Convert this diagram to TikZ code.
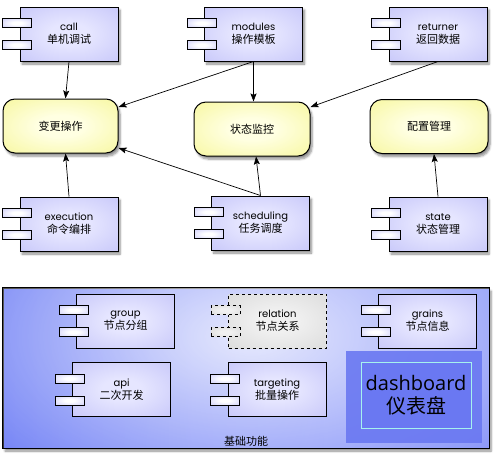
\documentclass[tikz,border=0pt]{standalone}
\usepackage{fontspec}
\setmainfont{Poppins}
\newfontfamily\cjk{Noto Sans CJK SC}
\newfontfamily\dashfont{Open Sans}
\usetikzlibrary{arrows.meta,shadows.blur,fadings}
\definecolor{compin}{HTML}{E6E6FF}
\definecolor{compout}{HTML}{B9B9F7}
\definecolor{notein}{HTML}{FFFFE2}
\definecolor{noteout}{HTML}{F3F37E}
\definecolor{relin}{HTML}{F0F0F0}
\definecolor{relout}{HTML}{D2D2D2}
\definecolor{baseleft}{HTML}{5568F4}
\definecolor{baseright}{HTML}{6E7EF8}
\definecolor{dashfill}{HTML}{6A78F2}
\definecolor{dashline}{HTML}{A6F2EE}
\pgfdeclareradialshading{compshade}{\pgfpoint{0bp}{0bp}}{color(0bp)=(compin); color(10bp)=(compin); color(50bp)=(compout); color(75bp)=(compout)}
\pgfdeclareradialshading{tabshade}{\pgfpoint{0bp}{0bp}}{color(0bp)=(white); color(8bp)=(white); color(50bp)=(compout); color(75bp)=(compout)}
\pgfdeclareradialshading{noteshade}{\pgfpoint{0bp}{0bp}}{color(0bp)=(notein); color(10bp)=(notein); color(50bp)=(noteout); color(75bp)=(noteout)}
\pgfdeclareradialshading{relshade}{\pgfpoint{0bp}{0bp}}{color(0bp)=(relin); color(10bp)=(relin); color(50bp)=(relout); color(75bp)=(relout)}
\tikzfading[name=glow, inner color=transparent!0, outer color=transparent!100]
\newcommand{\zh}{\cjk\fontsize{11pt}{13pt}\selectfont}
\tikzset{
  cnode/.style = {draw=black, line width=1pt, shading=compshade, minimum width=98pt, minimum height=54pt,
                  align=center, inner sep=0pt, font=\fontsize{10pt}{13pt}\selectfont},
  cshadow/.style = {blur shadow={shadow xshift=2pt, shadow yshift=-3pt, shadow blur steps=6, shadow opacity=45}},
  ctab/.style = {draw=black, line width=1pt, shading=tabshade, minimum width=29pt, minimum height=9pt, inner sep=0pt},
  snode/.style = {draw=black, line width=1pt, shading=noteshade, rounded corners=12pt, minimum height=54pt,
                  align=center, font=\zh},
  relnode/.style = {cnode, dashed, shading=relshade},
  reltab/.style = {ctab, dashed, shading=relshade},
  arr/.style = {-{Stealth[length=8pt, width=6pt, inset=1.5pt]}, line width=.7pt},
}
% two little tabs on the west side of a component
\newcommand{\tabs}[2][ctab]{
  \node[#1] (#2-t1) at ([xshift=-2.5pt, yshift=11pt]#2.west) {};
  \node[#1] (#2-t2) at ([xshift=-2.5pt, yshift=-11pt]#2.west) {};
}

\begin{document}
\begin{tikzpicture}[x=1pt, y=-1pt]
\useasboundingbox (0,0) rectangle (494,455);

% top row
\node[cnode, cshadow] (call) at (69,34) {call\\{\zh 单机调试}};
\tabs{call}
\node[cnode, cshadow] (modules) at (253.5,34) {modules\\{\zh 操作模板}};
\tabs{modules}
\node[cnode, cshadow] (returner) at (438,34) {returner\\{\zh 返回数据}};
\tabs{returner}

\node[snode, cshadow, minimum width=115pt] (change) at (60.5,126) {变更操作};
\node[snode, cshadow, minimum width=116pt] (monitor) at (252,129) {状态监控};
\node[snode, cshadow, minimum width=118pt] (config) at (429,126.5) {配置管理};

\node[cnode, cshadow] (execution) at (69,224) {execution\\{\zh 命令编排}};
\tabs{execution}
\node[cnode, cshadow] (scheduling) at (260.5,223) {scheduling\\{\zh 任务调度}};
\tabs{scheduling}
\node[cnode, cshadow] (state) at (438,224) {state\\{\zh 状态管理}};
\tabs{state}

\draw[arr] (call.south) -- ([xshift=5pt]change.north);
\draw[arr] (modules.south) -- ([yshift=19pt]change.east);
\draw[arr] (modules.south) -- ([xshift=1.5pt]monitor.north);
\draw[arr] (returner.south) -- ([yshift=22pt]monitor.east);
\draw[arr] (execution.north) -- ([xshift=5pt]change.south);
\draw[arr] (scheduling.north) -- ([yshift=-22pt]change.east);
\draw[arr] (scheduling.north) -- ([xshift=4pt]monitor.south);
\draw[arr] (state.north) -- ([xshift=5pt]config.south);

% base layer
\node[cshadow, draw=black, line width=1pt, left color=baseleft, right color=baseright,
      minimum width=486pt, minimum height=160pt, inner sep=0pt] (base) at (246,368) {};
\begin{scope}
  \clip (base.south west) rectangle (base.north east);
  \fill[white, path fading=glow, opacity=.85] (252,336) ellipse [x radius=420pt, y radius=230pt];
\end{scope}
\draw[line width=1pt] (base.south west) rectangle (base.north east);
\node[font=\zh, anchor=south, inner sep=1.5pt] (baselabel) at (base.south) {基础功能};

\node[cnode] (group) at (125.5,321) {group\\{\zh 节点分组}};
\tabs{group}
\node[relnode] (relation) at (277.5,321) {relation\\{\zh 节点关系}};
\tabs[reltab]{relation}
\node[cnode] (grains) at (427.5,321) {grains\\{\zh 节点信息}};
\tabs{grains}
\node[cnode] (api) at (121.5,389.5) {api\\{\zh 二次开发}};
\tabs{api}
\node[cnode] (targeting) at (277,389.5) {targeting\\{\zh 批量操作}};
\tabs{targeting}

\node[fill=dashfill, fill opacity=.9, minimum width=136pt, minimum height=92pt, inner sep=0pt] (dashback) at (414,397) {};
\node[draw=dashline, line width=.8pt, fill=dashfill, minimum width=110pt, minimum height=66pt, inner sep=0pt,
      align=center, font=\dashfont\fontsize{20pt}{23pt}\selectfont] (dashboard) at (416,395)
      {dashboard\\{\cjk 仪表盘}};
\end{tikzpicture}
\end{document}
